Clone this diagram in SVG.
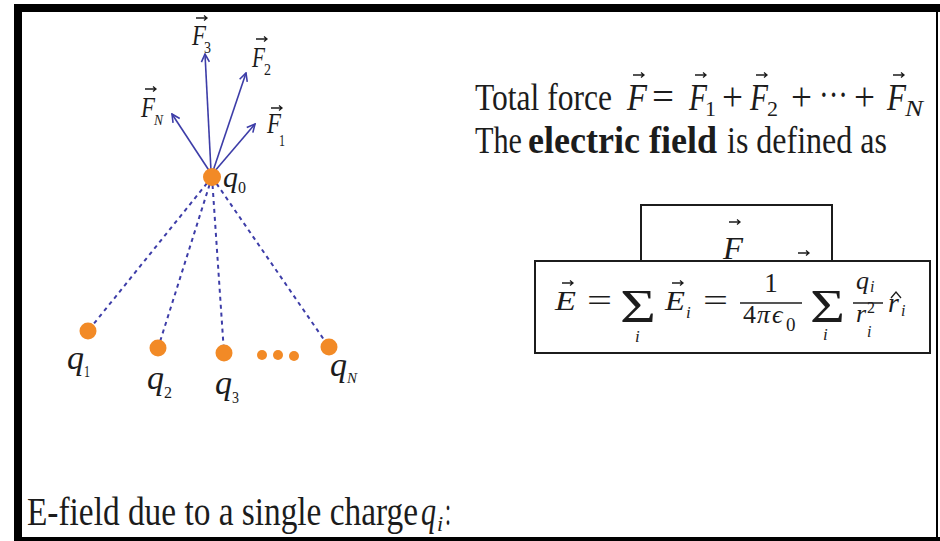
<svg xmlns="http://www.w3.org/2000/svg" xmlns:xlink="http://www.w3.org/1999/xlink" width="940" height="541" viewBox="0 0 940 541">
<style>
  text { font-family: "Liberation Serif", "DejaVu Serif", serif; fill: #1c1c1c; }
  .it { font-style: italic; }
  .b { font-weight: bold; }
  .arr { stroke: #3d3da8; stroke-width: 1.6; fill: none; }
  .dash { stroke: #3d3da8; stroke-width: 2; stroke-dasharray: 4 4; fill: none; }
  .chg { fill: #f28a26; }
  .lbl { font-size: 30px; }
  .ql { font-size: 34px; }
  .sub { font-size: 16px; }
  .m { font-size: 28px; }
  .box { fill: #ffffff; stroke: #1c1c1c; stroke-width: 2; }
</style>
<defs>
  <marker id="head" markerWidth="10" markerHeight="10" refX="9" refY="5" orient="auto" markerUnits="userSpaceOnUse">
    <path d="M1,1 L9,5 L1,9" fill="none" stroke="#3d3da8" stroke-width="1.6"/>
  </marker>
  <path id="vec" d="M0,0 H11 M8,-2.5 L11,0 L8,2.5" fill="none" stroke="#1c1c1c" stroke-width="1.3"/>
</defs>

<rect width="940" height="541" fill="#ffffff"/>
<g id="frame">
  <rect x="14" y="4" width="8" height="537" fill="#000"/>
  <rect x="14" y="4" width="926" height="8" fill="#000"/>
  <rect x="936" y="4" width="2" height="537" fill="#000"/>
  <rect x="14" y="537" width="926" height="4" fill="#000"/>
</g>

<g id="connectors">
  <line class="arr" x1="211" y1="171" x2="205" y2="54" marker-end="url(#head)"/>
  <line class="arr" x1="213" y1="171" x2="246" y2="73" marker-end="url(#head)"/>
  <line class="arr" x1="214" y1="172" x2="255" y2="124" marker-end="url(#head)"/>
  <line class="arr" x1="210" y1="172" x2="172" y2="114" marker-end="url(#head)"/>
  <line class="dash" x1="212" y1="177" x2="88" y2="331"/>
  <line class="dash" x1="212" y1="177" x2="158" y2="348"/>
  <line class="dash" x1="212" y1="177" x2="224" y2="353"/>
  <line class="dash" x1="212" y1="177" x2="329" y2="347"/>
</g>

<g id="labels-F">
  <text class="lbl it" x="192" y="45" textLength="14" lengthAdjust="spacingAndGlyphs">F</text>
  <text class="sub" x="204" y="53" textLength="7" lengthAdjust="spacingAndGlyphs">3</text>
  <use xlink:href="#vec" x="196" y="18"/>
  <text class="lbl it" x="252" y="67" textLength="13" lengthAdjust="spacingAndGlyphs">F</text>
  <text class="sub" x="264" y="75" textLength="7" lengthAdjust="spacingAndGlyphs">2</text>
  <use xlink:href="#vec" x="256" y="39"/>
  <text class="lbl it" x="267" y="133" textLength="14" lengthAdjust="spacingAndGlyphs">F</text>
  <text class="sub" x="279" y="146" textLength="6" lengthAdjust="spacingAndGlyphs">1</text>
  <use xlink:href="#vec" x="271" y="108"/>
  <text class="lbl it" x="141" y="117" textLength="14" lengthAdjust="spacingAndGlyphs">F</text>
  <text class="it" x="154" y="125" font-size="14" textLength="9" lengthAdjust="spacingAndGlyphs">N</text>
  <use xlink:href="#vec" x="145" y="89"/>
</g>

<g id="q0">
  <circle class="chg" cx="212" cy="177" r="9"/>
  <text class="lbl it" x="223" y="187">q</text>
  <text class="sub" x="238" y="193" textLength="8" lengthAdjust="spacingAndGlyphs">0</text>
</g>
<g id="q1">
  <circle class="chg" cx="88" cy="331" r="8.5"/>
  <text class="ql it" x="67" y="369">q</text>
  <text class="sub" x="84" y="377" textLength="6" lengthAdjust="spacingAndGlyphs">1</text>
</g>
<g id="q2">
  <circle class="chg" cx="158" cy="348" r="8.5"/>
  <text class="ql it" x="147" y="389">q</text>
  <text class="sub" x="164" y="398" textLength="8" lengthAdjust="spacingAndGlyphs">2</text>
</g>
<g id="q3">
  <circle class="chg" cx="224" cy="353" r="8.5"/>
  <text class="ql it" x="215" y="394">q</text>
  <text class="sub" x="232" y="403" textLength="7" lengthAdjust="spacingAndGlyphs">3</text>
</g>
<g id="dots">
  <circle class="chg" cx="262" cy="355" r="5"/>
  <circle class="chg" cx="278" cy="355" r="5"/>
  <circle class="chg" cx="294" cy="356" r="5"/>
</g>
<g id="qN">
  <circle class="chg" cx="329" cy="347" r="8.5"/>
  <text class="ql it" x="330" y="376">q</text>
  <text class="it" x="347" y="383" font-size="15" textLength="10" lengthAdjust="spacingAndGlyphs">N</text>
</g>

<g id="line1">
  <text x="475" y="110" font-size="37" textLength="137" lengthAdjust="spacingAndGlyphs">Total force</text>
  <text class="it" x="627" y="110" font-size="37" textLength="20" lengthAdjust="spacingAndGlyphs">F</text>
  <use xlink:href="#vec" x="633" y="75"/>
  <text x="652" y="110" font-size="40" textLength="22" lengthAdjust="spacingAndGlyphs">=</text>
  <text class="it" x="689" y="110" font-size="37" textLength="18" lengthAdjust="spacingAndGlyphs">F</text>
  <text x="705" y="116" font-size="22">1</text>
  <use xlink:href="#vec" x="695" y="75"/>
  <text x="722" y="110" font-size="40" textLength="21" lengthAdjust="spacingAndGlyphs">+</text>
  <text class="it" x="750" y="110" font-size="37" textLength="18" lengthAdjust="spacingAndGlyphs">F</text>
  <text x="767" y="116" font-size="22">2</text>
  <use xlink:href="#vec" x="756" y="75"/>
  <text x="791" y="110" font-size="40" textLength="21" lengthAdjust="spacingAndGlyphs">+</text>
  <text x="819" y="107" font-size="37" textLength="29" lengthAdjust="spacingAndGlyphs">···</text>
  <text x="854" y="110" font-size="40" textLength="21" lengthAdjust="spacingAndGlyphs">+</text>
  <text class="it" x="887" y="110" font-size="37" textLength="19" lengthAdjust="spacingAndGlyphs">F</text>
  <text class="it" x="905" y="116" font-size="24" textLength="18" lengthAdjust="spacingAndGlyphs">N</text>
  <use xlink:href="#vec" x="893" y="75"/>
</g>

<g id="line2">
  <text x="475" y="153" font-size="37" textLength="47" lengthAdjust="spacingAndGlyphs">The</text>
  <text class="b" x="528" y="153" font-size="37" textLength="189" lengthAdjust="spacingAndGlyphs">electric field</text>
  <text x="727" y="153" font-size="37" textLength="160" lengthAdjust="spacingAndGlyphs">is defined as</text>
</g>

<g id="box-definition">
  <rect class="box" x="641" y="205" width="191" height="80"/>
  <text class="it" x="723" y="259" font-size="32" textLength="20" lengthAdjust="spacingAndGlyphs">F</text>
  <use xlink:href="#vec" x="729" y="222"/>
  <use xlink:href="#vec" x="798" y="253"/>
</g>

<g id="box-superposition">
  <rect class="box" x="535" y="261" width="395" height="92"/>
  <text class="m it" x="555" y="310" textLength="21" lengthAdjust="spacingAndGlyphs">E</text>
  <use xlink:href="#vec" x="562" y="283"/>
  <text x="587" y="311" font-size="32" textLength="25" lengthAdjust="spacingAndGlyphs">=</text>
  <text x="620" y="322" font-size="46" textLength="36" lengthAdjust="spacingAndGlyphs">Σ</text>
  <text class="it" x="635" y="342" font-size="17">i</text>
  <text class="m it" x="665" y="310" textLength="20" lengthAdjust="spacingAndGlyphs">E</text>
  <use xlink:href="#vec" x="672" y="283"/>
  <text class="it" x="686" y="318" font-size="17">i</text>
  <text x="703" y="311" font-size="32" textLength="25" lengthAdjust="spacingAndGlyphs">=</text>
  <text x="771" y="292" font-size="27" text-anchor="middle">1</text>
  <line x1="740" y1="303" x2="802" y2="303" stroke="#1c1c1c" stroke-width="1.5"/>
  <text x="743" y="323" font-size="26">4</text>
  <text class="it" x="757" y="323" font-size="26">π</text>
  <text class="it" x="772" y="323" font-size="26">ϵ</text>
  <text x="786" y="331" font-size="19">0</text>
  <text x="810" y="322" font-size="46" textLength="35" lengthAdjust="spacingAndGlyphs">Σ</text>
  <text class="it" x="823" y="340" font-size="17">i</text>
  <text class="it" x="856" y="289" font-size="26">q</text>
  <text class="it" x="870" y="292" font-size="16">i</text>
  <line x1="853" y1="303" x2="883" y2="303" stroke="#1c1c1c" stroke-width="1.5"/>
  <text class="it" x="856" y="322" font-size="26">r</text>
  <text x="867" y="313" font-size="16">2</text>
  <text class="it" x="867" y="337" font-size="16">i</text>
  <text class="it" x="888" y="312" font-size="28">r</text>
  <path d="M891,298 L896,292 L901,298" fill="none" stroke="#1c1c1c" stroke-width="1.3"/>
  <text class="it" x="901" y="316" font-size="16">i</text>
</g>

<g id="bottom">
  <text x="27" y="525" font-size="40" textLength="391" lengthAdjust="spacingAndGlyphs">E-field due to a single charge</text>
  <text class="it" x="421" y="525" font-size="40" textLength="15" lengthAdjust="spacingAndGlyphs">q</text>
  <text class="it" x="437" y="531" font-size="22">i</text>
  <text x="445" y="525" font-size="40" textLength="6" lengthAdjust="spacingAndGlyphs">:</text>
</g>
</svg>
